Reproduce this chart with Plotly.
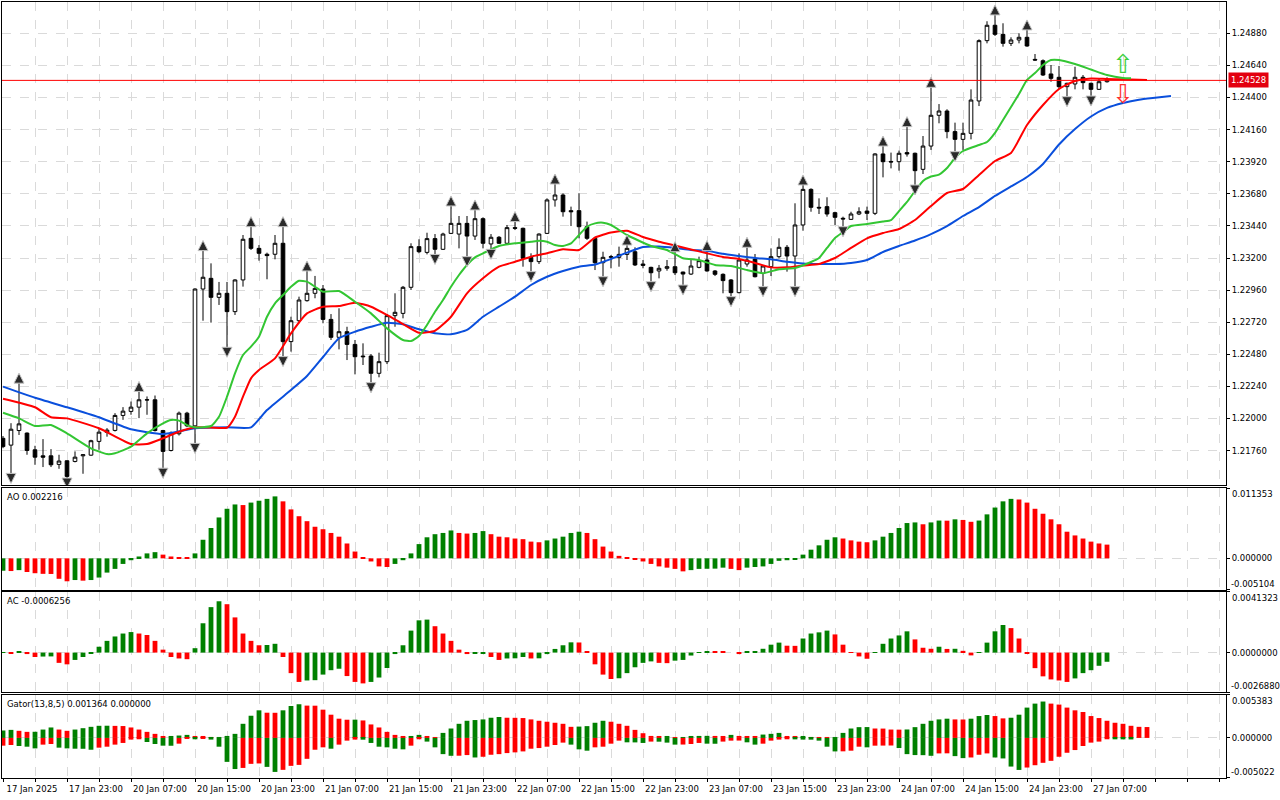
import plotly.graph_objects as go
from plotly.subplots import make_subplots

# H1 candles, first bar = 17 Jan 15:00
opens = [1.21852, 1.21801, 1.21910, 1.21891, 1.21766, 1.21721, 1.21721, 1.21657, 1.21684, 1.21679,
         1.21721, 1.21726, 1.21829, 1.21896, 1.21911, 1.22023, 1.22053, 1.22085, 1.22138, 1.22140,
         1.21910, 1.21761, 1.21886, 1.22040, 1.21945, 1.22968, 1.23048, 1.22906, 1.22936, 1.22799,
         1.23036, 1.23347, 1.23272, 1.23228, 1.23228, 1.23310, 1.22575, 1.22731, 1.22881, 1.22936,
         1.22968, 1.22741, 1.22607, 1.22649, 1.22554, 1.22467, 1.22467, 1.22338, 1.22425, 1.22769,
         1.22786, 1.22981, 1.23285, 1.23242, 1.23345, 1.23265, 1.23384, 1.23379, 1.23459, 1.23364,
         1.23494, 1.23305, 1.23355, 1.23310, 1.23427, 1.23422, 1.23205, 1.23173, 1.23384, 1.23634,
         1.23671, 1.23554, 1.23554, 1.23434, 1.23347, 1.23165, 1.23205, 1.23205, 1.23227, 1.23247,
         1.23155, 1.23130, 1.23103, 1.23123, 1.23135, 1.23095, 1.23080, 1.23130, 1.23185, 1.23103,
         1.23078, 1.23036, 1.22941, 1.23155, 1.23192, 1.23085, 1.23135, 1.23210, 1.23280, 1.23215,
         1.23447, 1.23713, 1.23579, 1.23584, 1.23539, 1.23497, 1.23489, 1.23529, 1.23551, 1.23534,
         1.23978, 1.23922, 1.23920, 1.23988, 1.23983, 1.23863, 1.24037, 1.24267, 1.24299, 1.24145,
         1.24087, 1.24132, 1.24374, 1.24825, 1.24940, 1.24872, 1.24805, 1.24830, 1.24850, 1.24685,
         1.24675, 1.24576, 1.24551, 1.24481, 1.24501, 1.24551, 1.24506, 1.24461, 1.24518]
highs = [1.21869, 1.21965, 1.22264, 1.21896, 1.21796, 1.21846, 1.21771, 1.21729, 1.21686, 1.21754,
         1.21731, 1.21841, 1.21928, 1.21928, 1.22040, 1.22085, 1.22127, 1.22202, 1.22165, 1.22172,
         1.21915, 1.21903, 1.22052, 1.22050, 1.22973, 1.23255, 1.23160, 1.23021, 1.23021, 1.23041,
         1.23372, 1.23434, 1.23297, 1.23240, 1.23372, 1.23434, 1.22761, 1.22911, 1.23103, 1.23066,
         1.22998, 1.22781, 1.22824, 1.22686, 1.22587, 1.22562, 1.22482, 1.22492, 1.22781, 1.22936,
         1.22991, 1.23310, 1.23340, 1.23389, 1.23379, 1.23389, 1.23589, 1.23514, 1.23514, 1.23559,
         1.23504, 1.23379, 1.23364, 1.23447, 1.23472, 1.23427, 1.23235, 1.23384, 1.23646, 1.23753,
         1.23683, 1.23584, 1.23683, 1.23472, 1.23359, 1.23247, 1.23222, 1.23285, 1.23297, 1.23280,
         1.23185, 1.23135, 1.23148, 1.23185, 1.23247, 1.23098, 1.23185, 1.23210, 1.23255, 1.23110,
         1.23085, 1.23043, 1.23235, 1.23280, 1.23230, 1.23145, 1.23272, 1.23347, 1.23297, 1.23609,
         1.23746, 1.23721, 1.23646, 1.23654, 1.23546, 1.23509, 1.23546, 1.23579, 1.23584, 1.23983,
         1.24037, 1.23988, 1.24003, 1.24182, 1.23988, 1.24112, 1.24476, 1.24351, 1.24312, 1.24212,
         1.24212, 1.24461, 1.24835, 1.24970, 1.25017, 1.24955, 1.24850, 1.24880, 1.24905, 1.24725,
         1.24685, 1.24643, 1.24636, 1.24511, 1.24630, 1.24568, 1.24511, 1.24543, 1.24551]
lows = [1.21778, 1.21590, 1.21877, 1.21729, 1.21654, 1.21637, 1.21637, 1.21624, 1.21555, 1.21672,
        1.21587, 1.21721, 1.21766, 1.21864, 1.21903, 1.21990, 1.22028, 1.22003, 1.22028, 1.21903,
        1.21629, 1.21754, 1.21873, 1.21935, 1.21814, 1.22731, 1.22717, 1.22849, 1.22533, 1.22774,
        1.22986, 1.23260, 1.23180, 1.23041, 1.23190, 1.22463, 1.22500, 1.22712, 1.22874, 1.22899,
        1.22712, 1.22587, 1.22517, 1.22437, 1.22330, 1.22400, 1.22268, 1.22308, 1.22407, 1.22686,
        1.22749, 1.22961, 1.23235, 1.23227, 1.23227, 1.23260, 1.23379, 1.23272, 1.23210, 1.23335,
        1.23272, 1.23265, 1.23305, 1.23297, 1.23409, 1.23135, 1.23098, 1.23155, 1.23379, 1.23584,
        1.23509, 1.23439, 1.23347, 1.23335, 1.23110, 1.23060, 1.23123, 1.23135, 1.23185, 1.23140,
        1.23123, 1.23023, 1.23048, 1.23105, 1.23073, 1.22998, 1.23073, 1.23123, 1.23098, 1.23065,
        1.22936, 1.22911, 1.22936, 1.23135, 1.23055, 1.22986, 1.23065, 1.23197, 1.23098, 1.22986,
        1.23404, 1.23546, 1.23529, 1.23509, 1.23447, 1.23434, 1.23484, 1.23521, 1.23484, 1.23521,
        1.23803, 1.23870, 1.23853, 1.23958, 1.23746, 1.23828, 1.24008, 1.24207, 1.24095, 1.23995,
        1.24008, 1.24087, 1.24336, 1.24805, 1.24860, 1.24780, 1.24785, 1.24805, 1.24780, 1.24675,
        1.24561, 1.24518, 1.24461, 1.24406, 1.24461, 1.24461, 1.24411, 1.24456, 1.24511]
closes = [1.21790, 1.21920, 1.21960, 1.21761, 1.21711, 1.21711, 1.21654, 1.21682, 1.21567, 1.21711,
          1.21729, 1.21834, 1.21898, 1.21913, 1.22023, 1.22055, 1.22085, 1.22140, 1.22140, 1.21910,
          1.21754, 1.21891, 1.22040, 1.21945, 1.22968, 1.23056, 1.22906, 1.22936, 1.22799, 1.23036,
          1.23340, 1.23272, 1.23235, 1.23218, 1.23310, 1.22575, 1.22731, 1.22886, 1.22936, 1.22973,
          1.22741, 1.22607, 1.22649, 1.22554, 1.22462, 1.22462, 1.22338, 1.22425, 1.22769, 1.22794,
          1.22981, 1.23285, 1.23247, 1.23345, 1.23265, 1.23379, 1.23459, 1.23459, 1.23364, 1.23494,
          1.23310, 1.23355, 1.23310, 1.23427, 1.23422, 1.23197, 1.23173, 1.23379, 1.23634, 1.23671,
          1.23546, 1.23546, 1.23434, 1.23347, 1.23165, 1.23205, 1.23210, 1.23227, 1.23272, 1.23148,
          1.23145, 1.23090, 1.23123, 1.23135, 1.23090, 1.23080, 1.23140, 1.23180, 1.23103, 1.23078,
          1.23031, 1.22941, 1.23185, 1.23185, 1.23060, 1.23140, 1.23210, 1.23280, 1.23215, 1.23447,
          1.23713, 1.23579, 1.23574, 1.23529, 1.23504, 1.23492, 1.23529, 1.23546, 1.23534, 1.23978,
          1.23920, 1.23918, 1.23983, 1.23978, 1.23853, 1.24037, 1.24267, 1.24299, 1.24145, 1.24087,
          1.24132, 1.24381, 1.24825, 1.24940, 1.24872, 1.24805, 1.24830, 1.24850, 1.24785, 1.24680,
          1.24568, 1.24543, 1.24481, 1.24506, 1.24551, 1.24511, 1.24461, 1.24518, 1.24528]

time_labels = ["17 Jan 2025", "17 Jan 23:00", "20 Jan 07:00", "20 Jan 15:00", "20 Jan 23:00",
               "21 Jan 07:00", "21 Jan 15:00", "21 Jan 23:00", "22 Jan 07:00", "22 Jan 15:00",
               "22 Jan 23:00", "23 Jan 07:00", "23 Jan 15:00", "23 Jan 23:00", "24 Jan 07:00",
               "24 Jan 15:00", "24 Jan 23:00", "27 Jan 07:00"]

price_ticks = [1.21760, 1.22000, 1.22240, 1.22480, 1.22720, 1.22960, 1.23200,
               1.23440, 1.23680, 1.23920, 1.24160, 1.24400, 1.24640, 1.24880]

# Alligator (jaw 13/8, teeth 8/5, lips 5/3), read at bar positions
jaw_idx = [0, 4, 8, 12, 16, 20, 24, 28, 31, 33, 36, 38] + list(range(40, 147, 2))
jaw_val = [1.22238, 1.22155, 1.22084, 1.22009, 1.21919, 1.21884, 1.21927, 1.21934, 1.21934, 1.22063,
           1.22213, 1.22318, 1.22460, 1.22600, 1.22649, 1.22686, 1.22716, 1.22704, 1.22667, 1.22637,
           1.22630, 1.22662, 1.22761, 1.22836, 1.22911, 1.22998, 1.23060, 1.23103, 1.23135, 1.23151,
           1.23193, 1.23240, 1.23282, 1.23286, 1.23275, 1.23260, 1.23254, 1.23231, 1.23215, 1.23200,
           1.23190, 1.23172, 1.23159, 1.23155, 1.23155, 1.23163, 1.23185, 1.23245, 1.23290, 1.23331,
           1.23379, 1.23439, 1.23514, 1.23581, 1.23664, 1.23735, 1.23806, 1.23903, 1.24049, 1.24164,
           1.24258, 1.24322, 1.24359, 1.24384, 1.24398, 1.24411]
teeth_idx = [0, 4, 6, 8, 12, 16, 18, 20, 22, 24, 26, 28, 29, 30, 31, 32, 34, 36, 38] + list(range(40, 143, 2)) + [143]
teeth_val = [1.22148, 1.22084, 1.22009, 1.22001, 1.21927, 1.21809, 1.21809, 1.21852, 1.21901, 1.21934,
             1.21933, 1.21931, 1.22013, 1.22163, 1.22300, 1.22363, 1.22450, 1.22637, 1.22786,
             1.22836, 1.22841, 1.22866, 1.22836, 1.22774, 1.22706, 1.22641, 1.22656, 1.22761, 1.22936,
             1.23048, 1.23135, 1.23172, 1.23210, 1.23235, 1.23265, 1.23260, 1.23353, 1.23391, 1.23404,
             1.23357, 1.23322, 1.23293, 1.23264, 1.23235, 1.23207, 1.23193, 1.23163, 1.23130, 1.23130,
             1.23144, 1.23155, 1.23200, 1.23275, 1.23347, 1.23387, 1.23417, 1.23484, 1.23589, 1.23686,
             1.23716, 1.23821, 1.23925, 1.23985, 1.24194, 1.24344, 1.24464, 1.24523, 1.24542, 1.24538,
             1.24536, 1.24533, 1.24531]
lips_idx = [0, 2, 4, 6, 8, 11, 13, 14, 16, 18, 20, 21, 22, 23, 24, 26, 27, 28, 29, 30,
            31, 32, 33, 34, 35, 36, 37, 38, 39, 40, 42, 44, 46, 48, 50, 51, 52, 53, 54, 55,
            56, 57, 58, 59, 60, 62, 64, 66, 67, 68, 69, 70, 71, 72, 73, 74, 75, 76, 78, 81,
            83, 85, 87, 89, 91, 93, 95, 97, 99, 101, 102, 103, 104, 105, 106, 108, 110, 111, 112, 113,
            114, 115, 116, 117, 118, 119, 120, 122, 123, 124, 125, 126, 127, 128, 129, 130, 131, 132, 134, 136,
            138, 140, 141]
lips_val = [1.22043, 1.22001, 1.21944, 1.21951, 1.21889, 1.21777, 1.21734, 1.21740, 1.21789, 1.21889,
            1.21964, 1.21989, 1.21984, 1.21951, 1.21934, 1.21944, 1.22013, 1.22163, 1.22338, 1.22475,
            1.22537, 1.22612, 1.22761, 1.22861, 1.22923, 1.22985, 1.23030, 1.23023, 1.22985, 1.22948,
            1.22953, 1.22873, 1.22786, 1.22674, 1.22587, 1.22579, 1.22617, 1.22699, 1.22798, 1.22886,
            1.22985, 1.23073, 1.23148, 1.23205, 1.23235, 1.23290, 1.23310, 1.23322, 1.23329, 1.23322,
            1.23297, 1.23290, 1.23310, 1.23372, 1.23434, 1.23459, 1.23464, 1.23447, 1.23372, 1.23290,
            1.23260, 1.23198, 1.23185, 1.23148, 1.23140, 1.23110, 1.23086, 1.23116, 1.23125, 1.23170,
            1.23200, 1.23275, 1.23350, 1.23394, 1.23439, 1.23454, 1.23473, 1.23484, 1.23551, 1.23619,
            1.23701, 1.23776, 1.23809, 1.23824, 1.23873, 1.23948, 1.24000, 1.24045, 1.24067, 1.24135,
            1.24232, 1.24329, 1.24426, 1.24531, 1.24583, 1.24643, 1.24680, 1.24680, 1.24650, 1.24609,
            1.24568, 1.24546, 1.24544]

# Bill Williams fractals (bar numbers)
fractal_up = [2, 17, 25, 31, 35, 38, 56, 59, 64, 69, 78, 84, 88, 93, 100, 110, 113, 116, 124, 128]
fractal_dn = [1, 8, 20, 24, 28, 35, 46, 54, 58, 61, 66, 75, 81, 85, 91, 95, 99, 105, 114, 119, 133, 136]

# alligator signal arrows on the last bars
signal_bar = 140
signal_up = 1.24650
signal_dn = 1.24428

# Awesome oscillator
ao = [-0.0020, -0.00205, -0.0019, -0.0022, -0.0024, -0.0025, -0.00252, -0.0033, -0.0037, -0.0035,
      -0.0036, -0.0035, -0.0031, -0.0023, -0.0017, -0.0009, -0.0003, 0.0003, 0.0008, 0.0010,
      0.0006, 0.0003, 0.0002, 0.0001, 0.0008, 0.0030, 0.0049, 0.0066, 0.0080, 0.0087,
      0.0086, 0.0090, 0.0093, 0.0096, 0.0100, 0.0092, 0.0079, 0.0068, 0.0060, 0.0051,
      0.0047, 0.0041, 0.0035, 0.0024, 0.0011, 0.0002, -0.0005, -0.0013, -0.0014, -0.0009,
      -0.0003, 0.0008, 0.0023, 0.0034, 0.0039, 0.0041, 0.0045, 0.0041, 0.0040, 0.0041,
      0.0044, 0.0039, 0.0035, 0.0034, 0.0032, 0.0031, 0.0027, 0.0026, 0.0029, 0.0032,
      0.0035, 0.0041, 0.0043, 0.0041, 0.0031, 0.0019, 0.0011, 0.0004, 0.0001, -0.0002,
      -0.0005, -0.0009, -0.0013, -0.0015, -0.0017, -0.0021, -0.0019, -0.0017, -0.00168, -0.00166,
      -0.0015, -0.0017, -0.0019, -0.0015, -0.0014, -0.0013, -0.0009, -0.0004, -0.0003, -0.0002,
      0.0006, 0.0014, 0.0021, 0.0030, 0.0034, 0.0032, 0.0029, 0.0027, 0.0026, 0.0029,
      0.0035, 0.0041, 0.0049, 0.0057, 0.0058, 0.0055, 0.0058, 0.0061, 0.00608, 0.0063,
      0.0062, 0.0059, 0.0061, 0.0071, 0.0082, 0.0092, 0.0096, 0.0095, 0.0090, 0.0080,
      0.0072, 0.0063, 0.0055, 0.0043, 0.0037, 0.0032, 0.0027, 0.0024, 0.002216]
ao_colors = ("GRGRRRRRRG" "RGGGGGGGGG" "RRRRGGGGGG" "RGGGGRRRRR" "RRRRRRRRRG"
             "GGGGGGGRRG" "GRRRRRRRGG" "GGGRRRRRRR" "RRRRRRGGGG" "GRRGGGGGGG"
             "GGGGGRRRRG" "GGGGGRGGRG" "RRGGGGGRRR" "RRRRRRRRR")
ao_ticks = [-0.005104, 0.0, 0.011353]

# Accelerator oscillator
ac = [0.00003, -0.00005, 0.0001, -0.0001, -0.0003, -0.00027, -0.00026, -0.0007, -0.0008, -0.0005,
      -0.0003, -0.00005, 0.0004, 0.0008, 0.0011, 0.0013, 0.0014, 0.0013, 0.0012, 0.0008,
      0.0002, -0.0003, -0.0004, -0.00045, 0.0003, 0.0020, 0.0031, 0.0035, 0.0033, 0.0024,
      0.0013, 0.0008, 0.0005, 0.00052, 0.0006, -0.0003, -0.0014, -0.0020, -0.0019, -0.00188,
      -0.0015, -0.0012, -0.0011, -0.0016, -0.0020, -0.0021, -0.0020, -0.0017, -0.00105, -0.0001,
      0.0005, 0.0015, 0.0022, 0.00225, 0.0018, 0.0013, 0.0008, 0.0002, -0.0001, -0.00005,
      -0.00003, -0.0003, -0.0005, -0.0004, -0.00039, -0.0003, -0.0004, -0.00039, -0.0001, 0.00025,
      0.0005, 0.0007, 0.00069, 0.0001, -0.0008, -0.0015, -0.0018, -0.00175, -0.0014, -0.0010,
      -0.0007, -0.0006, -0.0007, -0.00072, -0.00055, -0.0005, -0.0002, 0.00001, 0.00007, 0.00006,
      0.00005, 0.0, -0.0001, 0.00005, 0.0001, 0.00026, 0.00054, 0.00068, 0.00047, 0.00046,
      0.00096, 0.0013, 0.00138, 0.0015, 0.00124, 0.00054, -0.00002, -0.00026, -0.00042, -0.00001,
      0.0006, 0.00096, 0.00117, 0.00145, 0.0009, 0.00033, 0.00026, 0.0004, 0.00025, 0.00026,
      0.00012, -0.00019, -0.00002, 0.00068, 0.00145, 0.00188, 0.00167, 0.00096, -0.00005, -0.00106,
      -0.00162, -0.00183, -0.0019, -0.0020, -0.00176, -0.0014, -0.0012, -0.0009, -0.0006256]
ac_colors = ("GRGRRGGRRG" "GGGGGGGRRR" "RRRRGGGGRR" "RRRGGRRRGG" "GGGRRRGGGG"
             "GGGGRRRRRG" "GRRGGGRGGG" "GGRRRRRGGG" "GGRRGGGGGR" "RRRGGGGGRR"
             "GGGGRRRRRG" "GGGGRRRGRG" "RRGGGGRRRR" "RRRRGGGGG")
ac_ticks = [-0.0026880, 0.0, 0.0041323]

# Gator oscillator (shifted 5 bars ahead)
gator_up = [0.00093, 0.00101, 0.00089, 0.00076, 0.00077, 0.00105, 0.00131, 0.00105, 0.00089, 0.00105,
            0.00122, 0.00139, 0.00152, 0.00153, 0.00151, 0.00149, 0.00131, 0.00105, 0.00076, 0.00051,
            0.00017, 0.00020, 0.00030, 0.00038, 0.00021, 0.00015, 0.00006, 0.00010, 0.00025, 0.00051,
            0.00177, 0.00278, 0.00346, 0.00316, 0.00315, 0.00346, 0.00400, 0.00422, 0.00405, 0.00404,
            0.00354, 0.00291, 0.00241, 0.00228, 0.00229, 0.00219, 0.00169, 0.00131, 0.00076, 0.00038,
            0.00013, 0.00014, 0.00038, 0.00021, 0.00008, 0.00063, 0.00118, 0.00177, 0.00215, 0.00224,
            0.00232, 0.00253, 0.00262, 0.00253, 0.00252, 0.00249, 0.00232, 0.00215, 0.00203, 0.00190,
            0.00177, 0.00139, 0.00142, 0.00148, 0.00190, 0.00215, 0.00203, 0.00177, 0.00152, 0.00101,
            0.00059, 0.00025, 0.00017, 0.00018, 0.00008, 0.00009, 0.00017, 0.00025, 0.00026, 0.00025,
            0.00024, 0.00038, 0.00025, 0.00024, 0.00023, 0.00042, 0.00051, 0.00063, 0.00021, 0.00013,
            0.00014, 0.00010, 0.00006, 0.00003, 0.00008, 0.00063, 0.00118, 0.00135, 0.00136, 0.00118,
            0.00117, 0.00105, 0.00104, 0.00106, 0.00135, 0.00177, 0.00215, 0.00232, 0.00241, 0.00232,
            0.00231, 0.00241, 0.00274, 0.00287, 0.00274, 0.00245, 0.00253, 0.00291, 0.00380, 0.00430,
            0.00456, 0.00430, 0.00418, 0.00380, 0.00346, 0.00325, 0.00274, 0.00249, 0.00215, 0.00190,
            0.00177, 0.00152, 0.00139, 0.001364]
gator_up_colors = ("GGRRGGGRRG" "GGGGRRRRRR" "RGGGRRRGGG" "GGGRRGGGRR" "RRRRGRRRRR"
                   "RGGRRGGGGG" "GGGRRRRRRR" "RRGGGGRRRR" "RRRGRGGGGR" "RGRRRGGGRR"
                   "GRRRGGGGGR" "RRRGGGGGGR" "RGGGRRGGGG" "GRRRRRRRRR" "RRRR")
gator_dn = [-0.00097, -0.00089, -0.00101, -0.00110, -0.00131, -0.00084, -0.00076, -0.00122, -0.00131, -0.00135,
            -0.00136, -0.00148, -0.00122, -0.00110, -0.00084, -0.00063, -0.00021, -0.00017, -0.00051, -0.00076,
            -0.00097, -0.00098, -0.00072, -0.00008, -0.00017, -0.00008, -0.00021, -0.00110, -0.00300, -0.00390,
            -0.00376, -0.00325, -0.00320, -0.00363, -0.00426, -0.00400, -0.00350, -0.00338, -0.00262, -0.00148,
            -0.00118, -0.00135, -0.00084, -0.00034, -0.00021, -0.00022, -0.00063, -0.00110, -0.00118, -0.00135,
            -0.00143, -0.00097, -0.00017, -0.00046, -0.00118, -0.00203, -0.00224, -0.00223, -0.00215, -0.00245,
            -0.00236, -0.00211, -0.00203, -0.00190, -0.00181, -0.00169, -0.00135, -0.00127, -0.00110, -0.00089,
            -0.00059, -0.00084, -0.00143, -0.00160, -0.00118, -0.00110, -0.00072, -0.00034, -0.00055, -0.00056,
            -0.00063, -0.00046, -0.00047, -0.00059, -0.00084, -0.00083, -0.00076, -0.00063, -0.00072, -0.00073,
            -0.00046, -0.00034, -0.00033, -0.00055, -0.00084, -0.00072, -0.00034, -0.00021, -0.00017, -0.00018,
            -0.00021, -0.00022, -0.00034, -0.00110, -0.00169, -0.00168, -0.00160, -0.00110, -0.00118, -0.00097,
            -0.00096, -0.00095, -0.00127, -0.00203, -0.00215, -0.00216, -0.00224, -0.00194, -0.00193, -0.00228,
            -0.00253, -0.00245, -0.00211, -0.00194, -0.00245, -0.00257, -0.00359, -0.00401, -0.00371, -0.00342,
            -0.00312, -0.00287, -0.00236, -0.00186, -0.00152, -0.00101, -0.00059, -0.00046, -0.00017, -0.000175,
            -0.00018, -0.00019, 0.0, 0.0]
gator_dn_colors = ("RRGGGRRGGG" "GGRRRRRRGG" "GGRRGRGGGG" "RRRGGRRRRR" "RGRRRGGGGG"
                   "GRRGGGGRRG" "RRRRRRRRRR" "RGGGRRRRGG" "GRGGGRRRGG" "RRRGGRRRRG"
                   "GGGGGRRRGR" "RRGGGGGRRG" "GRRRGGGGRR" "RRRRRRRRRG" "GGRR")
gator_ticks = [-0.005022, 0.0, 0.005383]

GREEN = '#008000'
RED = '#ff0000'
col = {'G': GREEN, 'R': RED}
arrow_gap = 0.00075
FONT = dict(family='DejaVu Sans', size=8.5, color='black')

bars = list(range(len(opens)))
gator_bars = list(range(len(gator_up)))

fig = make_subplots(rows=4, cols=1, shared_xaxes=True, vertical_spacing=0.0)

fig.add_trace(go.Candlestick(
    x=bars, open=opens, high=highs, low=lows, close=closes,
    increasing=dict(line=dict(color='black', width=1), fillcolor='white'),
    decreasing=dict(line=dict(color='black', width=1), fillcolor='black'),
    whiskerwidth=0, hoverinfo='skip', showlegend=False), row=1, col=1)

for idx, val, color in [(jaw_idx, jaw_val, '#0a4fdc'),
                        (teeth_idx, teeth_val, '#ff0000'),
                        (lips_idx, lips_val, '#33c633')]:
    fig.add_trace(go.Scatter(x=idx, y=val, mode='lines',
                             line=dict(color=color, width=2, shape='spline', smoothing=0.5),
                             hoverinfo='skip', showlegend=False), row=1, col=1)

fig.add_trace(go.Scatter(
    x=fractal_up, y=[highs[i] + arrow_gap for i in fractal_up], mode='markers',
    marker=dict(symbol='arrow-up', size=10, color='#2a2a2a', line=dict(color='#c4c4c4', width=1)),
    hoverinfo='skip', showlegend=False), row=1, col=1)
fig.add_trace(go.Scatter(
    x=fractal_dn, y=[lows[i] - arrow_gap for i in fractal_dn], mode='markers',
    marker=dict(symbol='arrow-down', size=10, color='#2a2a2a', line=dict(color='#c4c4c4', width=1)),
    hoverinfo='skip', showlegend=False), row=1, col=1)

fig.add_trace(go.Bar(x=bars, y=ao, width=0.6,
                     marker=dict(color=[col[c] for c in ao_colors], line=dict(width=0)),
                     hoverinfo='skip', showlegend=False), row=2, col=1)
fig.add_trace(go.Bar(x=bars, y=ac, width=0.6,
                     marker=dict(color=[col[c] for c in ac_colors], line=dict(width=0)),
                     hoverinfo='skip', showlegend=False), row=3, col=1)
fig.add_trace(go.Bar(x=gator_bars, y=gator_up, width=0.6,
                     marker=dict(color=[col[c] for c in gator_up_colors], line=dict(width=0)),
                     hoverinfo='skip', showlegend=False), row=4, col=1)
fig.add_trace(go.Bar(x=gator_bars, y=gator_dn, width=0.6,
                     marker=dict(color=[col[c] for c in gator_dn_colors], line=dict(width=0)),
                     hoverinfo='skip', showlegend=False), row=4, col=1)

# axes
grid_ticks = list(range(0, 153, 4))
tick_text = []
for t in grid_ticks:
    if t % 8 == 0 and t // 8 < len(time_labels):
        tick_text.append(time_labels[t // 8])
    else:
        tick_text.append('')

fig.update_xaxes(range=[-0.125, 152.875], tickmode='array', tickvals=grid_ticks, ticktext=tick_text,
                 showgrid=True, gridcolor='#dadada', griddash='dash', gridwidth=1,
                 showline=True, linecolor='black', linewidth=1, mirror=True,
                 zeroline=False, rangeslider_visible=False, showticklabels=False)
fig.update_xaxes(showticklabels=True, ticks='outside', ticklen=3, tickcolor='black',
                 ticklabelshift=29, row=4, col=1)

grid = dict(showgrid=True, gridcolor='#dadada', griddash='dash', gridwidth=1,
            showline=True, linecolor='black', linewidth=1, mirror=True, zeroline=False,
            side='right', ticks='outside', ticklen=3, tickcolor='black', tickmode='array')

dom_main = [0.3776, 1.0]
dom_ao = [0.2423, 0.3737]
dom_ac = [0.1108, 0.2397]
dom_gator = [0.0, 0.1070]

fig.update_yaxes(range=[1.21503, 1.25114], tickvals=price_ticks,
                 ticktext=[f"{p:.5f}" for p in price_ticks], row=1, col=1, **grid)

# indicator windows: only the zero level is an axis label, the max / min sit inside the window
sub = [(2, ao_ticks, 6, dom_ao), (3, ac_ticks, 7, dom_ac), (4, gator_ticks, 6, dom_gator)]
for row, ticks, dec, dom in sub:
    fig.update_yaxes(range=[ticks[0], ticks[-1]], tickvals=ticks,
                     ticktext=['', f"{ticks[1]:.{dec}f}", ''], row=row, col=1, **grid)
    fig.add_annotation(x=1, xref='paper', y=dom[1], yref='paper', xanchor='left', yanchor='top',
                       xshift=4, yshift=1, text=f"{ticks[-1]:.{dec}f}", showarrow=False, font=FONT)
    fig.add_annotation(x=1, xref='paper', y=dom[0], yref='paper', xanchor='left', yanchor='bottom',
                       xshift=3, yshift=-1, text=f"{ticks[0]:.{dec}f}", showarrow=False, font=FONT)

fig.update_layout(yaxis=dict(domain=dom_main), yaxis2=dict(domain=dom_ao),
                  yaxis3=dict(domain=dom_ac), yaxis4=dict(domain=dom_gator))

# current price line + label
fig.add_shape(type='line', xref='paper', x0=0, x1=1, yref='y', y0=closes[-1], y1=closes[-1],
              line=dict(color=RED, width=1))
fig.add_annotation(x=1, xref='paper', y=closes[-1], yref='y', xanchor='left', xshift=2,
                   text=f"{closes[-1]:.5f}", showarrow=False, bgcolor='#e3000f',
                   font=dict(color='white', size=8.5, family='DejaVu Sans'), borderpad=2)

# signal arrows
fig.add_annotation(x=signal_bar, y=signal_up, xref='x', yref='y', text='\u21e7', showarrow=False,
                   font=dict(color='#3ccf3c', size=26, family='DejaVu Sans'))
fig.add_annotation(x=signal_bar, y=signal_dn, xref='x', yref='y', text='\u21e9', showarrow=False,
                   font=dict(color='#ff3030', size=26, family='DejaVu Sans'))

# indicator window labels
labels = [(f"AO {ao[-1]:.6f}", dom_ao[1]),
          (f"AC {ac[-1]:.7f}", dom_ac[1]),
          (f"Gator(13,8,5) {gator_up[-1]:.6f} {abs(gator_dn[-1]):.6f}", dom_gator[1])]
for text, top in labels:
    fig.add_annotation(x=0, y=top, xref='paper', yref='paper', xanchor='left', yanchor='top',
                       xshift=3, yshift=-2, text=text, showarrow=False, font=FONT)

fig.update_layout(width=1280, height=800, margin=dict(l=2, r=54, t=2, b=22),
                  paper_bgcolor='white', plot_bgcolor='white', showlegend=False,
                  barmode='overlay', boxgap=0.35, font=FONT)

fig.write_html("out.html", config={'displayModeBar': False},
               post_script="document.body.style.margin='0';document.body.style.overflow='hidden';")
